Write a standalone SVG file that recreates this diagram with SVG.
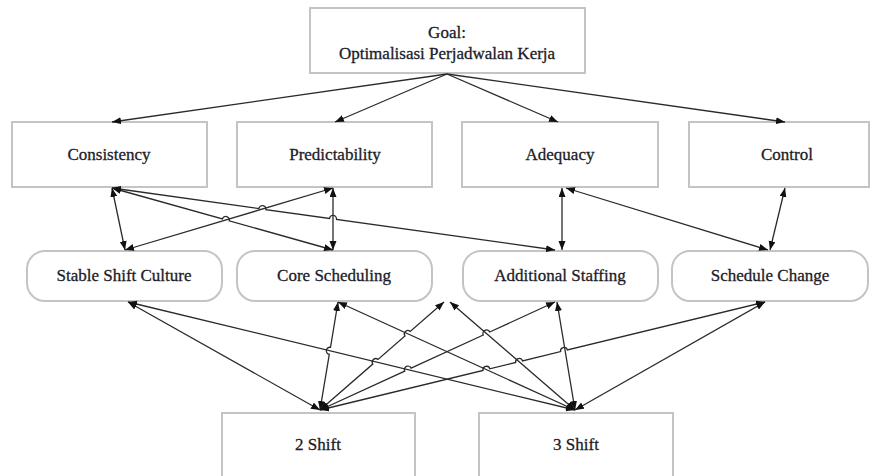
<svg xmlns="http://www.w3.org/2000/svg" width="872" height="476" viewBox="0 0 872 476">
<style>
.box{fill:#ffffff;stroke:#c4c4c4;stroke-width:2}
.t{font-family:'Liberation Serif','Times New Roman',serif;font-size:17px;fill:#1c1c28;stroke:#1c1c28;stroke-width:0.3;text-anchor:middle}
.c{fill:none;stroke:#2a2a2a;stroke-width:1.3}
.one{marker-end:url(#ah)}
.two{marker-start:url(#ah);marker-end:url(#ah)}
</style>
<defs>
<marker id="ah" markerUnits="userSpaceOnUse" markerWidth="10" markerHeight="8" refX="9" refY="3.5" orient="auto-start-reverse">
<path d="M0,0 L9,3.5 L0,7 z" fill="#111"/>
</marker>
</defs>
<rect width="872" height="476" fill="#ffffff"/>

<g id="goal">
<rect class="box" x="310" y="8" width="275" height="65"/>
<text class="t" x="447" y="38">Goal:</text>
<text class="t" x="447" y="59">Optimalisasi Perjadwalan Kerja</text>
</g>

<g id="consistency">
<rect class="box" x="12" y="122" width="195" height="65"/>
<text class="t" x="109" y="160">Consistency</text>
</g>
<g id="predictability">
<rect class="box" x="237" y="122" width="195" height="65"/>
<text class="t" x="335" y="160">Predictability</text>
</g>
<g id="adequacy">
<rect class="box" x="462" y="122" width="196" height="65"/>
<text class="t" x="560" y="160">Adequacy</text>
</g>
<g id="control">
<rect class="box" x="689" y="122" width="180" height="65"/>
<text class="t" x="787" y="160">Control</text>
</g>

<g id="stable-shift-culture">
<rect class="box" x="27" y="251" width="195" height="50" rx="18"/>
<text class="t" x="124" y="281">Stable Shift Culture</text>
</g>
<g id="core-scheduling">
<rect class="box" x="237" y="251" width="195" height="50" rx="18"/>
<text class="t" x="334" y="281">Core Scheduling</text>
</g>
<g id="additional-staffing">
<rect class="box" x="463" y="251" width="195" height="50" rx="18"/>
<text class="t" x="560" y="281">Additional Staffing</text>
</g>
<g id="schedule-change">
<rect class="box" x="672" y="251" width="196" height="50" rx="18"/>
<text class="t" x="770" y="281">Schedule Change</text>
</g>

<g id="shift-2">
<rect class="box" x="222" y="413" width="193" height="70"/>
<text class="t" x="318" y="450">2 Shift</text>
</g>
<g id="shift-3">
<rect class="box" x="479" y="413" width="194" height="70"/>
<text class="t" x="576" y="450">3 Shift</text>
</g>

<g id="connectors">
<path class="c one" d="M447,74 L112,122"/>
<path class="c one" d="M447,74 L335,122"/>
<path class="c one" d="M447,74 L558,122"/>
<path class="c one" d="M447,74 L785,122"/>

<path class="c two" d="M112,188 L125,250"/>
<path class="c two" d="M112,188 L222.4,219 A3.5,3.5 0 0 1 229.2,220.8 L333,250"/>
<path class="c two" d="M112,188 L258.9,208.6 A3.5,3.5 0 0 1 265.9,209.6 L329.5,218.4 A3.5,3.5 0 0 1 336.5,219.4 L555,250"/>
<path class="c two" d="M333,188 L125,250"/>
<path class="c two" d="M333,188 L333,250"/>
<path class="c two" d="M562,188 L562,250"/>
<path class="c two" d="M566,188 L768,250"/>
<path class="c two" d="M785,188 L770,250"/>

<path class="c two" d="M320,410 L128,302"/>
<path class="c two" d="M320,410 L329.3,354.3 A3.5,3.5 0 0 1 330.5,347.3 L338,302"/>
<path class="c two" d="M320,410 L372.8,364.1 A3.5,3.5 0 0 1 378,359.5 L405,336 A3.5,3.5 0 0 1 410.2,331.4 L444,302"/>
<path class="c two" d="M320,410 L404.7,371.1 A3.5,3.5 0 0 1 411.1,368.1 L483.3,335 A3.5,3.5 0 0 1 489.7,332 L555,302"/>
<path class="c two" d="M320,410 L483,370.4 A3.5,3.5 0 0 1 489.8,368.8 L515.7,362.5 A3.5,3.5 0 0 1 522.5,360.9 L560.6,351.6 A3.5,3.5 0 0 1 567.4,350 L765,302"/>

<path class="c two" d="M575,410 L128,302"/>
<path class="c two" d="M575,410 L338,302"/>
<path class="c two" d="M575,410 L450,302"/>
<path class="c two" d="M575,410 L557,302"/>
<path class="c two" d="M575,410 L765,302"/>
</g>
</svg>
